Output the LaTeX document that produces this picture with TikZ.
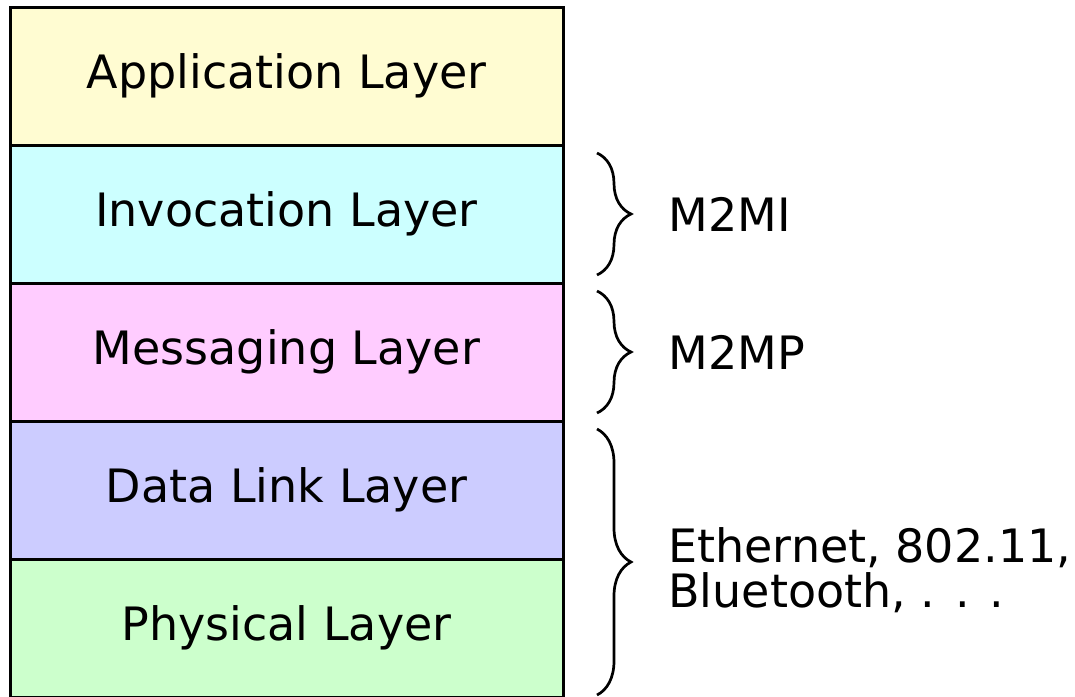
\documentclass[tikz,border=0pt]{standalone}
\usepackage{fontspec}
\setmainfont{DejaVu Sans}
\usepackage{tikz}
\usetikzlibrary{positioning, decorations.pathreplacing}
\definecolor{appcol}{HTML}{FFFCD2}
\definecolor{invcol}{HTML}{CCFFFF}
\definecolor{msgcol}{HTML}{FFCCFF}
\definecolor{dlcol}{HTML}{CCCCFF}
\definecolor{phycol}{HTML}{CCFFCC}
\tikzset{
font=\fontsize{23}{22.5}\selectfont, % text size of the whole picture
node distance=69pt, % centre to centre distance of two layers
every layer/.style={draw, line width=1.5pt, minimum width=276.5pt, minimum height=69pt, inner sep=0pt, outer sep=0pt}, % sets the properties for each layer box
group/.style={decorate, decoration={brace, amplitude=17pt}, line width=1.35pt}, % curly brace on the right
group text/.style={midway, anchor=west, xshift=35pt, inner sep=0pt, align=left}, % text next to a brace
}

\begin{document}
\begin{tikzpicture}
                \useasboundingbox (0,0) rectangle (537.5pt,-348pt);
                \node[every layer, fill=appcol] (app) at (143.25pt,-38pt) {Application Layer};
                \node[every layer, fill=invcol, below of=app] (inv) {Invocation Layer};
                \node[every layer, fill=msgcol, below of=inv] (msg) {Messaging Layer};
                \node[every layer, fill=dlcol, below of=msg] (dl) {Data Link Layer};
                \node[every layer, fill=phycol, below of=dl] (phy) {Physical Layer};
                \coordinate (m2mi top) at ([xshift=17pt, yshift=-4pt]inv.north east);
                \coordinate (m2mi bot) at ([xshift=17pt, yshift=4pt]inv.south east);
                \coordinate (m2mp top) at ([xshift=17pt, yshift=-4pt]msg.north east);
                \coordinate (m2mp bot) at ([xshift=17pt, yshift=4pt]msg.south east);
                \coordinate (net top) at ([xshift=17pt, yshift=-4pt]dl.north east);
                \coordinate (net bot) at ([xshift=17pt, yshift=1pt]phy.south east);
                \draw[group] (m2mi top) -- (m2mi bot) node[group text] {M2MI};
                \draw[group] (m2mp top) -- (m2mp bot) node[group text] {M2MP};
                \draw[group] (net top) -- (net bot) node[group text, yshift=-4pt] {Ethernet, 802.11,\\Bluetooth, . . .};
\end{tikzpicture}
\end{document}
